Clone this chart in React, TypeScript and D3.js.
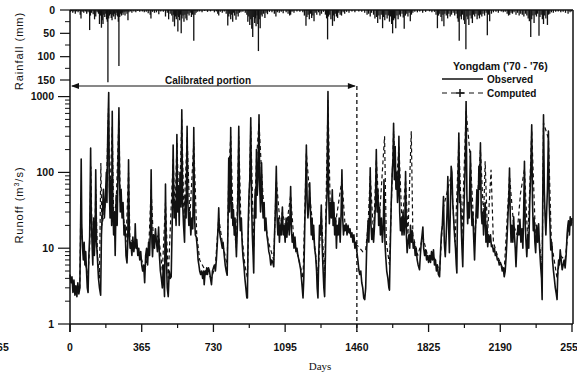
import React from "react";
import * as d3 from "d3";

// ---------- data ----------
// Observed daily runoff (m3/s) sampled at [day, value]
const observed: [number, number][] = [
  [0,4.5],[5,3.5],[10,4.2],[15,2.6],[20,3.8],[25,2.4],[30,3.2],[35,2.3],[40,3.5],[45,2.5],[50,3.0],
  [53,12],[57,150],[60,20],[64,10],[68,7],[72,12],[76,6],[80,9],[84,5],[88,3],[92,2.6],[96,8],[100,14],
  [105,210],[108,30],[112,12],[116,6],[120,25],[124,8],[128,15],[131,108],[135,12],[140,7],[145,4],[150,3],
  [156,2.4],[160,15],[165,30],[170,60],[175,25],[180,45],[185,100],[188,40],[192,300],[197,1130],[200,60],
  [204,25],[208,80],[212,20],[215,640],[218,40],[222,15],[226,30],[230,8],[235,50],[240,20],[245,150],
  [249,710],[252,80],[256,30],[260,60],[265,25],[270,40],[275,15],[280,20],[285,8],[290,6.4],[294,12],
  [298,147],[302,15],[306,10],[310,12],[315,8],[320,14],[325,9],[330,12],[332,21],[336,10],[340,13],
  [345,8],[350,10],[355,7],[360,9],[365,6],
  [370,5],[375,6],[380,3.5],[385,8],[390,10],[395,6],[400,12],[405,8],[410,20],[413,108],[417,12],
  [420,7.7],[425,15],[430,10],[435,18],[440,12],[445,9],[451,19],[455,8],[460,5],[465,4],[470,3],[475,6],
  [481,2.3],[486,70],[490,8],[495,3],[500,2.3],[505,5],[510,4],[515,4.2],[520,20],[525,230],[530,25],
  [535,40],[540,20],[544,315],[548,30],[552,60],[556,20],[560,100],[565,35],[569,670],[573,40],[578,20],
  [583,12],[587,50],[591,25],[596,405],[600,40],[605,20],[610,30],[615,15],[620,25],[625,18],[630,390],
  [634,25],[638,15],[643,14],[648,10],[652,7],[656,6],[660,5],[665,4.5],[670,5],[675,4],[680,5],[683,3.3],
  [688,5],[692,4.5],[696,5.5],[700,4.5],[705,5.5],[710,5],[715,4],[720,3.3],[725,5],[730,5.5],
  [735,6],[740,5],[745,7],[750,12],[754,20],[757,34],[760,18],[765,14],[770,12],[775,10],[779,12],[785,8],
  [790,6],[795,5],[800,4.4],[804,20],[808,155],[812,30],[815,60],[818,390],[822,25],[826,40],[829,20],
  [832,32],[836,15],[840,25],[844,12],[847,7.7],[852,20],[855,60],[859,405],[863,30],[867,17],[872,25],
  [876,12],[880,8],[885,6],[890,4],[895,3],[900,2.2],[903,2.2],[907,20],[911,50],[915,80],[920,525],
  [924,40],[928,15],[932,8],[935,4.7],[939,30],[943,60],[946,25],[949,200],[953,50],[957,80],[962,575],
  [966,60],[970,30],[975,134],[979,40],[983,25],[988,40],[992,17],[997,25],[1002,15],[1007,12],[1012,9],
  [1017,8],[1022,6],[1027,7],[1032,6.5],[1037,5.7],[1041,15],[1045,30],[1050,120],[1054,25],[1058,15],
  [1062,25],[1066,12],[1070,20],[1075,15],[1081,35],[1085,15],[1090,20],[1095,12],
  [1100,25],[1104,14],[1108,20],[1112,26],[1116,15],[1119,22],[1123,65],[1127,18],[1131,12],[1136,15],
  [1140,10],[1145,14],[1150,9],[1155,10],[1160,8],[1165,7],[1170,6],[1174,5.2],[1178,4],[1182,3],
  [1186,2.2],[1190,4],[1195,20],[1199,60],[1203,230],[1207,40],[1211,25],[1215,35],[1220,73],[1224,30],
  [1228,15],[1232,25],[1236,13],[1240,20],[1245,10],[1250,8],[1255,5],[1258,3],[1262,2.2],[1266,8],
  [1270,20],[1275,15],[1279,37],[1283,12],[1287,6],[1292,3],[1296,2.3],[1300,8],[1304,30],[1308,50],
  [1313,1170],[1316,60],[1320,21],[1325,40],[1330,25],[1335,59],[1339,20],[1343,40],[1347,15],[1352,25],
  [1356,10],[1360,20],[1365,15],[1370,25],[1375,12],[1380,30],[1384,108],[1388,25],[1392,15],[1396,20],
  [1400,17],[1405,21],[1410,15],[1415,20],[1420,16],[1425,18],[1430,14],[1435,16],[1440,12],[1445,15],
  [1450,10],[1455,12],[1460,9],
  [1465,7],[1470,5.2],[1475,4.5],[1480,5],[1485,3.5],[1490,3],[1495,2.2],[1500,2.1],[1505,3],[1510,10],
  [1514,15],[1517,23],[1521,12],[1525,30],[1528,115],[1532,20],[1536,13],[1540,18],[1545,12],[1550,20],
  [1555,40],[1559,200],[1563,30],[1567,59],[1571,20],[1575,35],[1580,15],[1585,25],[1590,12],[1595,20],
  [1598,80],[1603,12],[1607,7.7],[1612,5],[1618,4],[1623,3],[1626,2.8],[1630,10],[1635,40],[1640,100],
  [1644,150],[1647,445],[1651,80],[1655,220],[1659,60],[1663,100],[1667,40],[1671,60],[1674,300],
  [1678,30],[1682,17],[1686,25],[1690,15],[1695,30],[1700,15],[1704,20],[1708,103],[1712,15],[1716,8.7],
  [1720,12],[1725,15],[1729,10],[1733,20],[1738,12],[1742,17],[1747,10],[1752,12],[1757,8],[1762,10],
  [1767,7],[1772,6],[1776,5.5],[1779,5.2],[1783,8],[1788,12],[1792,15],[1796,19],[1800,10],[1805,8],
  [1810,9.5],[1815,7],[1820,8],[1825,6.5],
  [1830,8],[1835,6.5],[1840,9],[1845,7],[1850,9.5],[1855,6],[1860,7],[1865,5],[1870,6],[1875,4.5],
  [1881,4.2],[1885,8],[1890,15],[1895,20],[1901,48],[1905,12],[1910,7.7],[1915,15],[1919,30],[1923,88],
  [1927,20],[1931,8.7],[1935,25],[1940,120],[1944,100],[1948,40],[1952,26],[1957,15],[1962,10],[1966,6],
  [1969,4.7],[1972,30],[1976,100],[1979,330],[1983,40],[1987,48],[1991,20],[1995,10],[1999,5.7],
  [2003,20],[2008,60],[2012,150],[2016,870],[2020,50],[2024,21],[2028,40],[2032,25],[2035,80],[2038,190],
  [2042,35],[2046,20],[2050,30],[2054,15],[2059,7],[2063,15],[2067,30],[2071,59],[2075,25],[2078,40],
  [2081,120],[2085,60],[2089,245],[2093,30],[2097,21],[2101,30],[2105,15],[2109,25],[2113,40],[2117,12],
  [2121,20],[2126,10.5],[2130,15],[2135,12],[2140,15],[2145,10.5],[2150,11],[2155,9],[2160,10],[2165,8],
  [2170,8.5],[2175,7],[2180,7],[2185,6],[2190,6.5],
  [2195,6],[2200,5],[2205,5.5],[2210,4.2],[2215,5],[2220,8],[2225,15],[2230,30],[2234,50],[2237,114],
  [2241,25],[2245,12],[2249,20],[2254,12],[2258,26],[2262,15],[2266,10],[2270,5.7],[2275,12],[2280,20],
  [2285,15],[2290,24],[2295,12],[2300,18],[2305,10],[2309,30],[2313,140],[2317,20],[2321,12],[2325,7.7],
  [2330,15],[2335,10],[2340,40],[2345,100],[2350,425],[2354,40],[2358,17],[2362,25],[2366,12],[2370,8.7],
  [2375,20],[2380,12],[2385,21],[2390,10],[2395,6],[2400,4],[2403,2.1],[2406,40],[2410,575],[2414,60],
  [2418,26],[2422,15],[2426,30],[2430,60],[2435,350],[2439,40],[2443,20],[2447,9.5],[2452,12],[2456,7],
  [2460,5.2],[2465,4],[2470,3],[2475,2.5],[2479,2.1],[2483,5],[2487,7],[2491,6],[2495,9.5],[2500,7],
  [2505,5.2],[2510,6],[2515,7],[2520,5.5],[2525,8],[2530,15],[2534,20],[2537,23],[2542,15],[2546,26],
  [2550,20],[2555,25],
];

// Computed runoff (m3/s)
const computed: [number, number][] = [
  [0,4],[10,3.8],[20,3.2],[30,2.8],[40,2.6],[50,3],[55,40],[60,15],[70,8],[80,6],[90,4],[100,10],
  [106,120],[112,15],[125,10],[131,60],[140,8],[150,4],[157,133],[162,20],[175,30],[185,60],[196,700],
  [202,40],[215,400],[222,25],[235,40],[249,500],[256,40],[270,30],[285,12],[298,100],[305,14],[320,12],
  [340,10],[365,7],[380,5],[400,9],[413,60],[425,12],[451,15],[470,5],[486,40],[500,4],[525,150],[535,30],
  [544,250],[556,30],[569,500],[580,25],[596,300],[610,25],[630,250],[645,15],[660,7],[690,5],[720,4],
  [740,6],[757,25],[775,12],[800,6],[808,100],[818,300],[830,25],[847,10],[859,300],[870,20],[890,6],
  [903,4],[920,400],[935,10],[949,150],[962,450],[975,100],[990,25],[1010,12],[1037,7],[1050,80],
  [1070,20],[1081,30],[1100,18],[1123,50],[1140,12],[1160,8],[1186,4],[1203,180],[1220,50],[1240,15],
  [1262,4],[1279,30],[1296,4],[1313,900],[1325,30],[1335,45],[1350,20],[1384,80],[1400,20],[1430,15],
  [1460,11],[1475,10],[1490,9],[1505,9.5],[1517,20],[1528,90],[1545,15],[1559,150],[1575,25],[1601,300],
  [1610,12],[1626,6],[1647,350],[1660,60],[1674,220],[1690,20],[1708,80],[1720,15],[1737,350],[1745,15],
  [1770,8],[1796,14],[1820,8],[1850,8],[1881,5],[1901,35],[1923,60],[1940,90],[1960,12],[1979,250],
  [1995,15],[2016,650],[2038,150],[2059,12],[2081,90],[2089,200],[2105,25],[2113,140],[2125,15],
  [2143,108],[2155,12],[2175,8],[2195,6],[2210,5],[2237,90],[2258,20],[2275,15],[2293,53],[2313,110],
  [2330,12],[2350,350],[2370,12],[2385,15],[2403,5],[2410,450],[2435,280],[2450,12],[2479,4],[2495,8],
  [2520,7],[2537,18],[2555,22],
];

// Daily rainfall (mm) at [day, value]
const rainfall: [number, number][] = [
  [3,4],[8,2],[14,6],[20,3],[27,8],[33,3],[41,5],[46,2],[52,10],[56,18],[62,4],[70,6],[78,3],[85,8],[92,5],
  [100,43],[104,12],[110,6],[118,9],[125,20],[131,14],[138,5],[145,8],[150,30],[155,12],[160,38],[164,22],
  [168,30],[172,10],[177,15],[182,8],[186,20],[190,25],[193,155],[197,18],[201,12],[206,9],[210,17],
  [214,22],[218,10],[222,14],[226,8],[230,20],[234,11],[238,6],[242,14],[246,25],[249,120],[253,15],
  [257,8],[262,12],[266,6],[270,10],[275,5],[280,12],[285,4],[290,8],[295,22],[300,5],[308,3],[315,6],
  [325,3],[335,5],[345,2],[355,4],
  [368,3],[378,5],[388,4],[398,7],[408,10],[412,18],[420,4],[430,6],[440,5],[452,9],[462,3],[475,4],
  [486,14],[495,6],[502,20],[510,8],[518,12],[524,25],[528,10],[532,35],[537,14],[541,20],[545,12],
  [549,46],[553,15],[558,22],[562,10],[566,50],[570,18],[575,12],[580,25],[585,10],[590,18],[595,22],
  [600,8],[606,12],[612,6],[618,15],[624,10],[630,66],[636,10],[642,6],[650,4],[660,3],[672,5],[685,2],
  [700,4],[715,3],
  [735,5],[745,3],[752,8],[757,12],[765,4],[775,6],[785,3],[795,8],[803,33],[808,14],[813,8],[818,20],
  [823,10],[828,25],[833,6],[838,12],[845,21],[850,8],[856,14],[862,6],[870,5],[880,4],[892,6],[900,10],
  [905,25],[910,14],[915,32],[920,20],[925,40],[930,58],[935,15],[940,28],[944,18],[947,35],[952,12],
  [956,30],[959,88],[963,20],[968,39],[973,10],[978,14],[985,8],[992,17],[998,6],[1005,9],[1015,4],
  [1028,5],[1040,8],[1048,14],[1055,5],[1065,6],[1075,4],[1085,7],
  [1100,5],[1110,8],[1118,12],[1123,10],[1130,4],[1140,6],[1155,3],[1170,4],[1185,5],[1193,12],[1201,34],
  [1206,15],[1212,10],[1218,20],[1224,8],[1230,17],[1236,12],[1242,24],[1248,6],[1256,10],[1265,5],
  [1272,12],[1280,8],[1290,4],[1300,10],[1306,18],[1311,63],[1316,14],[1322,10],[1328,20],[1336,34],
  [1340,12],[1345,24],[1350,8],[1356,14],[1362,17],[1368,6],[1375,10],[1382,12],[1390,5],[1398,8],
  [1408,4],[1420,6],[1435,3],[1450,5],
  [1470,3],[1485,4],[1500,6],[1512,10],[1520,8],[1528,14],[1535,6],[1545,10],[1552,18],[1560,15],
  [1566,28],[1572,12],[1578,20],[1584,10],[1591,39],[1596,15],[1602,22],[1608,10],[1614,18],[1620,12],
  [1626,25],[1632,14],[1637,30],[1642,50],[1647,22],[1652,18],[1658,39],[1664,12],[1670,20],[1676,10],
  [1682,14],[1690,8],[1696,16],[1701,40],[1707,12],[1714,8],[1720,14],[1726,6],[1732,24],[1738,10],
  [1745,6],[1755,4],[1768,5],[1780,3],[1795,6],[1810,4],
  [1830,3],[1842,5],[1855,4],[1863,10],[1870,39],[1876,12],[1882,8],[1888,15],[1893,24],[1898,10],
  [1903,35],[1908,8],[1915,12],[1922,18],[1928,8],[1935,14],[1942,10],[1950,6],[1958,12],[1965,8],
  [1972,18],[1976,25],[1981,66],[1986,14],[1992,20],[1998,10],[2004,22],[2009,30],[2015,84],[2020,14],
  [2025,20],[2030,32],[2036,12],[2042,18],[2048,28],[2054,10],[2060,14],[2066,8],[2072,20],[2078,12],
  [2084,18],[2090,10],[2096,14],[2102,8],[2110,12],[2118,6],[2124,54],[2130,10],[2136,24],[2145,8],
  [2155,5],[2168,4],[2180,6],
  [2195,3],[2205,5],[2215,4],[2225,8],[2232,12],[2238,10],[2245,6],[2252,8],[2260,5],[2270,10],[2278,6],
  [2286,12],[2294,8],[2302,10],[2310,14],[2318,8],[2325,12],[2332,18],[2338,24],[2345,58],[2350,20],
  [2356,12],[2362,28],[2368,10],[2374,14],[2380,8],[2387,55],[2392,15],[2398,10],[2404,20],[2410,30],
  [2416,12],[2422,18],[2430,32],[2436,10],[2442,8],[2450,5],[2460,6],[2472,4],[2485,3],[2498,5],
  [2510,4],[2522,6],[2535,8],[2545,5],[2552,3],
];

const dayTicks = [-365, 0, 365, 730, 1095, 1460, 1825, 2190, 2555];
const rainTicks = [0, 50, 100, 150];
const rainMinorTicks = [25, 75, 125];
const runoffTicks = [1, 10, 100, 1000];
const calibrationEnd = 1460;

// ---------- layout ----------
const W = 577;
const H = 374;
const X0 = 70;
const X1 = 573;
const Y_TOP = 10;
const Y_BOT = 324;

export default function App() {
  const x = d3.scaleLinear().domain([0, 2555]).range([70, 572]);
  const yRain = d3.scaleLinear().domain([0, 150]).range([10, 80]);
  const yRun = d3.scaleLog().domain([1, 1000]).range([324, 96.6]);

  const line = d3
    .line<[number, number]>()
    .x((d) => x(d[0]))
    .y((d) => yRun(d[1]));

  const runoffMinor: number[] = [];
  for (const dec of [1, 10, 100]) for (let k = 2; k <= 9; k++) runoffMinor.push(dec * k);
  const dayMinor: number[] = [];
  for (let i = 0; i < dayTicks.length - 1; i++) {
    if (dayTicks[i] >= 0) dayMinor.push(dayTicks[i] + 182.5);
  }

  const ink = "#111";
  const font = "'Liberation Sans', Arial, sans-serif";
  const xCal = x(calibrationEnd);
  const yArrow = 86;

  return (
    <svg
      width={W}
      height={H}
      style={{ position: "absolute", left: 0, top: 0, background: "#fff" }}
      fontFamily={font}
    >
      <rect x={0} y={0} width={W} height={H} fill="#fff" />

      {/* rainfall bars */}
      <g stroke={ink} strokeWidth={1.3}>
        {rainfall.map((d, i) => (
          <line key={i} x1={x(d[0])} x2={x(d[0])} y1={yRain(0)} y2={yRain(d[1])} />
        ))}
      </g>

      {/* runoff lines */}
      <path d={line(computed) || ""} fill="none" stroke={ink} strokeWidth={1.2} strokeDasharray="4,3" />
      <path d={line(observed) || ""} fill="none" stroke={ink} strokeWidth={1.6} strokeLinejoin="round" />

      {/* frame */}
      <line x1={X0} x2={X1} y1={Y_TOP} y2={Y_TOP} stroke={ink} strokeWidth={1.5} />
      <line x1={X0} x2={X1} y1={Y_BOT} y2={Y_BOT} stroke={ink} strokeWidth={1.5} />
      <line x1={X0} x2={X0} y1={Y_TOP} y2={Y_BOT + 8} stroke={ink} strokeWidth={1.5} />
      <line x1={X1} x2={X1} y1={Y_TOP} y2={Y_BOT} stroke={ink} strokeWidth={1.5} />

      {/* rainfall axis */}
      {rainTicks.map((t) => (
        <g key={"r" + t}>
          <line x1={X0 - 10} x2={X0} y1={yRain(t)} y2={yRain(t)} stroke={ink} strokeWidth={1.2} />
          <text x={55} y={yRain(t)} dy="0.35em" textAnchor="end" fontSize={10.5} fontWeight="bold" fill={ink}>
            {t}
          </text>
        </g>
      ))}
      {rainMinorTicks.map((t) => (
        <line key={"rm" + t} x1={X0 - 5} x2={X0} y1={yRain(t)} y2={yRain(t)} stroke={ink} strokeWidth={1} />
      ))}

      {/* runoff axis */}
      {runoffTicks.map((t) => (
        <g key={"q" + t}>
          <line x1={X0 - 12} x2={X0} y1={yRun(t)} y2={yRun(t)} stroke={ink} strokeWidth={1.2} />
          <text x={54} y={yRun(t)} dy="0.35em" textAnchor="end" fontSize={10.5} fontWeight="bold" fill={ink}>
            {t}
          </text>
        </g>
      ))}
      {runoffMinor.map((t) => (
        <line key={"qm" + t} x1={X0 - 5} x2={X0} y1={yRun(t)} y2={yRun(t)} stroke={ink} strokeWidth={1} />
      ))}

      {/* day axis */}
      {dayTicks.map((t) => (
        <g key={"d" + t}>
          {t >= 0 && <line x1={x(t)} x2={x(t)} y1={Y_BOT} y2={Y_BOT + 8} stroke={ink} strokeWidth={1.3} />}
          <text x={x(t)} y={347} dy="0.35em" textAnchor="middle" fontSize={10.5} fontWeight="bold" fill={ink}>
            {t}
          </text>
        </g>
      ))}
      {dayMinor.map((t) => (
        <line key={"dm" + t} x1={x(t)} x2={x(t)} y1={Y_BOT} y2={Y_BOT + 4} stroke={ink} strokeWidth={1.2} />
      ))}

      {/* axis titles */}
      <text x={320} y={366} dy="0.35em" textAnchor="middle" fontSize={11} fill={ink}
        fontFamily="'Liberation Serif', serif">
        Days
      </text>
      <text transform="translate(19,51) rotate(-90)" textAnchor="middle" dy="0.35em" fontSize={11}
        letterSpacing={1} fill={ink}>
        Rainfall (mm)
      </text>
      <text transform="translate(19,205) rotate(-90)" textAnchor="middle" dy="0.35em" fontSize={11}
        letterSpacing={1} fill={ink}>
        Runoff (m<tspan dy="-4" fontSize={7}>3</tspan><tspan dy="4">/s)</tspan>
      </text>

      {/* calibration marker */}
      <line x1={X0 + 2} x2={xCal - 2} y1={yArrow} y2={yArrow} stroke={ink} strokeWidth={1} />
      <path d={`M${X0 + 1},${yArrow} l8,-3 l0,6 z`} fill={ink} />
      <path d={`M${xCal - 1},${yArrow} l-8,-3 l0,6 z`} fill={ink} />
      <line x1={xCal} x2={xCal} y1={yArrow} y2={Y_BOT + 8} stroke={ink} strokeWidth={1.3} strokeDasharray="4,3" />
      <text x={208} y={80} dy="0.35em" textAnchor="middle" fontSize={10} fontWeight="bold" fill={ink}>
        Calibrated portion
      </text>

      {/* legend */}
      <rect x={440} y={60} width={128} height={41} fill="#fff" />
      <text x={453} y={66} dy="0.35em" fontSize={10.5} fontWeight="bold" fill={ink}>
        Yongdam ('70 - '76)
      </text>
      <line x1={442} x2={483} y1={79} y2={79} stroke={ink} strokeWidth={1.3} />
      <text x={487} y={79} dy="0.35em" fontSize={10} fontWeight="bold" fill={ink}>Observed</text>
      <line x1={442} x2={483} y1={93} y2={93} stroke={ink} strokeWidth={1.2} strokeDasharray="5,4" />
      <path d="M460,89 v8 M456,93 h8" stroke={ink} strokeWidth={1.5} />
      <text x={487} y={93} dy="0.35em" fontSize={10} fontWeight="bold" fill={ink}>Computed</text>
    </svg>
  );
}
